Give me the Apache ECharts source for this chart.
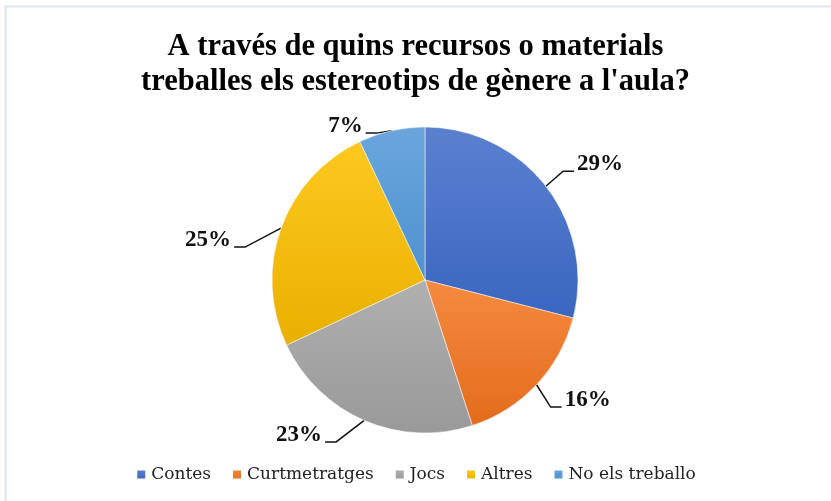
<!DOCTYPE html>
<html>
<head>
<meta charset="UTF-8">
<title></title>
<script type="text/javascript" src="https://cdn.jsdelivr.net/npm/echarts@6/dist/echarts.min.js"></script>
<style type="text/css">
	* { padding: 0; margin: 0; }
	body { background: #fff; }
	#main { width: 831px; height: 501px; }
</style>
</head>
<body>
<div id="main"></div>
<script type="text/javascript">
	var categories = ['Contes', 'Curtmetratges', 'Jocs', 'Altres', 'No els treballo'];
	var values = [29, 16, 23, 25, 7];
	var topColors = ['#5b80d0', '#f58a40', '#b0b0b0', '#ffc820', '#6aa6dc'];
	var bottomColors = ['#3a66c0', '#e46c1c', '#999999', '#e8b000', '#4e92d0'];

	// nudges so the labels sit roughly where the spreadsheet put them
	var labelShift = [[2, -11], [0, 3], [-20, -2], [-18, 18], [-10, 13]];

	var serif = 'Liberation Serif';

	var myChart = echarts.init(document.getElementById('main'));

	var data = [];
	for (var i = 0; i < categories.length; i++) {
		data.push({
			name: categories[i],
			value: values[i],
			itemStyle: {
				color: new echarts.graphic.LinearGradient(0, 0, 0, 1, [
					{ offset: 0, color: topColors[i] },
					{ offset: 1, color: bottomColors[i] }
				])
			}
		});
	}

	myChart.setOption({
		animation: false,
		textStyle: { fontFamily: serif },
		title: {
			text: 'A través de quins recursos o materials\ntreballes els estereotips de gènere a l\'aula?',
			left: 'center',
			top: 25,
			textStyle: {
				fontFamily: serif,
				fontWeight: 'bold',
				fontSize: 30.5,
				lineHeight: 35,
				color: '#000'
			}
		},
		legend: {
			show: true,
			type: 'plain',
			orient: 'horizontal',
			bottom: 13,
			left: 'center',
			icon: 'rect',
			itemWidth: 10,
			itemHeight: 10,
			itemGap: 20,
			textStyle: {
				fontFamily: 'DejaVu Serif',
				fontSize: 17,
				fontWeight: 'normal',
				color: '#222'
			}
		},
		graphic: [{
			type: 'rect',
			shape: { x: 5.5, y: 6.5, width: 840, height: 520 },
			style: { fill: null, stroke: '#dde3ee', lineWidth: 2 },
			silent: true
		}],
		series: [{
			type: 'pie',
			name: 'Recursos',
			center: [425, 280],
			radius: 153,
			startAngle: 90,
			clockwise: true,
			data: data,
			itemStyle: { borderColor: '#fff', borderWidth: 0.5 },
			label: {
				formatter: '{c}%',
				fontFamily: serif,
				fontWeight: 'bold',
				fontSize: 23,
				color: '#111'
			},
			labelLine: {
				length: 18,
				length2: 10,
				lineStyle: { color: '#111', width: 1.5 }
			},
			labelLayout: function (params) {
				var s = labelShift[params.dataIndex];
				var r = params.labelRect;
				var edge = params.labelLinePoints[0];
				var cy = r.y + s[1] + r.height / 2 + 7;
				var left = edge[0] < 425;
				var endX = left ? r.x + s[0] + r.width + 3 : r.x + s[0] - 3;
				var midX = left ? endX + 11 : endX - 11;
				return {
					dx: s[0],
					dy: s[1],
					labelLinePoints: [edge, [midX, cy], [endX, cy]]
				};
			}
		}]
	});
</script>
</body>
</html>
